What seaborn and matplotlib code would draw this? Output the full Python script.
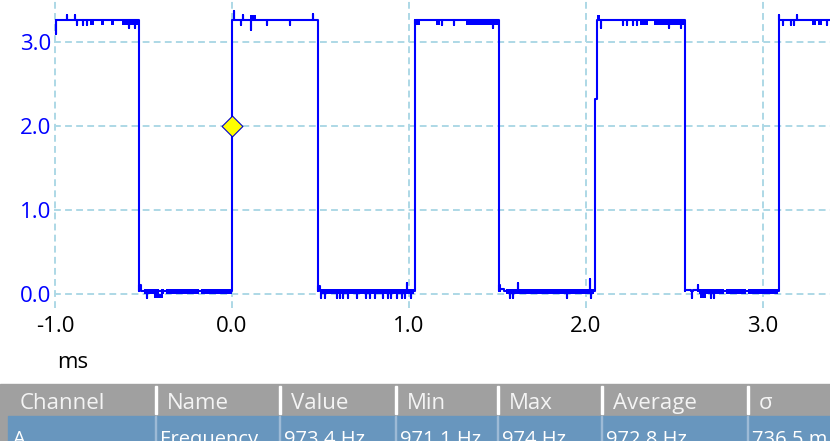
import numpy as np
import pandas as pd
import matplotlib
matplotlib.use("Agg")
import matplotlib.pyplot as plt
import seaborn as sns
from matplotlib.patches import Rectangle

# -------------------------------
# data (time in ms, level in V)
# -------------------------------
# segment boundaries and the level held in each segment
seg_t = [-0.994, -0.525, 0.0, 0.488, 1.034, 1.508, 2.051, 2.062, 2.559, 3.090, 3.38]
seg_v = [3.26, 0.03, 3.26, 0.03, 3.26, 0.03, 2.32, 3.26, 0.03, 3.26]

# excursions from the level: start, end, value (start == end -> single spike)
exc_t0 = [-0.994, -0.932, -0.887, -0.876, -0.842, -0.819, -0.582, -0.548,
          -0.525, -0.480,
          0.010, 0.051, 0.062, 0.107, 0.198, 0.330, 0.458,
          0.488, 0.503, 0.525, 0.593, 0.610, 0.630, 0.655, 0.706, 0.757, 0.780,
          0.808, 0.853, 0.881, 0.900, 0.930, 0.960, 0.977, 0.989, 1.011,
          1.034, 1.186, 1.254, 1.475,
          1.508, 1.514, 1.571, 1.588, 1.616, 1.893, 2.022, 2.028,
          2.085, 2.209, 2.232, 2.266, 2.288, 2.469, 2.537,
          2.559, 2.599, 2.603, 2.633, 2.706, 2.723,
          3.090, 3.113, 3.158, 3.175, 3.192, 3.362]
exc_t1 = [-0.994, -0.932, -0.887, -0.876, -0.842, -0.819, -0.582, -0.548,
          -0.514, -0.480,
          0.010, 0.051, 0.062, 0.107, 0.198, 0.330, 0.458,
          0.497, 0.503, 0.525, 0.593, 0.610, 0.630, 0.655, 0.706, 0.757, 0.780,
          0.808, 0.853, 0.881, 0.900, 0.930, 0.960, 0.977, 0.989, 1.011,
          1.040, 1.186, 1.254, 1.475,
          1.514, 1.537, 1.571, 1.588, 1.616, 1.893, 2.022, 2.028,
          2.085, 2.209, 2.232, 2.266, 2.288, 2.469, 2.537,
          2.595, 2.599, 2.633, 2.633, 2.706, 2.723,
          3.090, 3.113, 3.158, 3.175, 3.192, 3.362]
exc_v = [3.10, 3.32, 3.32, 3.20, 3.20, 3.20, 3.17, 3.17,
         0.107, -0.05,
         3.37, 3.20, 3.32, 3.14, 3.20, 3.20, 3.33,
         0.10, -0.05, -0.05, -0.05, -0.05, -0.05, -0.05, -0.05, -0.05, -0.05,
         -0.05, -0.05, -0.05, -0.05, -0.05, -0.05, -0.05, 0.13, -0.05,
         3.22, 3.20, 3.20, 3.17,
         0.107, 0.06, -0.05, -0.05, 0.13, -0.05, 0.18, -0.05,
         3.17, 3.20, 3.20, 3.20, 3.20, 3.17, 3.17,
         0.05, -0.05, 0.05, 0.107, -0.05, -0.05,
         3.32, 3.20, 3.20, 3.20, 3.32, 3.20]

# dense noise bands: start, end, bottom, top
blk_t0 = [-0.802, -0.740, -0.684, -0.621,
          -0.495, -0.400, -0.375, -0.176, -0.441,
          0.102, 0.500,
          1.040, 1.153, 1.322,
          1.550, 2.062, 2.305, 2.384,
          2.640, 2.790, 2.915, 2.644,
          3.277, 3.311]
blk_t1 = [-0.780, -0.723, -0.667, -0.525,
          -0.412, -0.386, -0.186, 0.0, -0.390,
          0.136, 1.030,
          1.062, 1.175, 1.508,
          2.047, 2.079, 2.350, 2.559,
          2.780, 2.905, 3.085, 2.678,
          3.299, 3.333]
blk_lo = [3.20, 3.20, 3.20, 3.20,
          0.0, 0.0, 0.0, 0.0, -0.05,
          3.26, 0.0,
          3.20, 3.20, 3.20,
          0.0, 3.26, 3.20, 3.20,
          0.0, 0.0, 0.0, -0.05,
          3.20, 3.20]
blk_hi = [3.26, 3.26, 3.26, 3.26,
          0.065, 0.065, 0.065, 0.065, 0.0,
          3.32, 0.065,
          3.26, 3.26, 3.26,
          0.065, 3.32, 3.26, 3.26,
          0.065, 0.065, 0.065, 0.0,
          3.26, 3.26]

# trigger marker
cursor_t = [0.0]
cursor_v = [2.0]

x_ticks = [-1.0, 0.0, 1.0, 2.0, 3.0]
x_labels = ["-1.0", "0.0", "1.0", "2.0", "3.0"]
y_ticks = [0.0, 1.0, 2.0, 3.0]
y_labels = ["0.0", "1.0", "2.0", "3.0"]

# measurement table
col_names = ["Channel", "Name", "Value", "Min", "Max", "Average", "σ"]
row_values = ["A", "Frequency", "973.4 Hz", "971.1 Hz", "974 Hz", "972.8 Hz", "736.5 m..."]


def build_trace():
    ts, vs = [], []
    for i, lev in enumerate(seg_v):
        t0, t1 = seg_t[i], seg_t[i + 1]
        ts.append(t0)
        vs.append(lev)
        ev = sorted((a, b, v) for a, b, v in zip(exc_t0, exc_t1, exc_v) if t0 <= a < t1)
        for a, b, v in ev:
            ts += [a, a, b, b]
            vs += [lev, v, v, lev]
        ts.append(t1)
        vs.append(lev)
    return pd.DataFrame({"t": ts, "v": vs})


sns.set_theme(style="white")
plt.rcParams["font.family"] = ["Open Sans", "DejaVu Sans"]

W, H = 830, 441
fig = plt.figure(figsize=(W / 100, H / 100), dpi=100)

# axes placed in pixel terms: left 54, bottom 308
ax = fig.add_axes([54 / W, 1 - 308 / H, (W - 54) / W, 308 / H])

trace = build_trace()
sns.lineplot(data=trace, x="t", y="v", sort=False, estimator=None,
             color="#0000ff", linewidth=1.5, ax=ax, zorder=3)
for a, b, lo, hi in zip(blk_t0, blk_t1, blk_lo, blk_hi):
    ax.fill_between([a, b], [lo, lo], [hi, hi], color="#0000ff", linewidth=0, zorder=3)

sns.scatterplot(x=cursor_t, y=cursor_v, marker="D", s=112, color="#ffff00",
                edgecolor="#0000cc", linewidth=0.8, ax=ax, zorder=5)

ax.set_xlim(-1.005, 3.378)
ax.set_ylim(-0.167, 3.5)
ax.set_xticks(x_ticks)
ax.set_xticklabels(x_labels)
ax.set_yticks(y_ticks)
ax.set_yticklabels(y_labels)
ax.set_xlabel("")
ax.set_ylabel("")
ax.tick_params(axis="y", length=0, pad=2.2, labelsize=16, labelcolor="#0000ff")
ax.tick_params(axis="x", length=0, pad=6.0, labelsize=16, labelcolor="#000000")
ax.grid(True, color="#add8e6", linewidth=1.4, linestyle=(0, (3.5, 2.2)))
ax.set_axisbelow(True)
for sp in ax.spines.values():
    sp.set_visible(False)

fig.text(73 / W, 1 - 363 / H, "ms", ha="center", va="center", fontsize=16, color="#000000")

# -------------------------------
# measurement table under the plot
# -------------------------------
def px_rect(x0, y0, x1, y1, color):
    fig.patches.append(Rectangle((x0 / W, 1 - y1 / H), (x1 - x0) / W, (y1 - y0) / H,
                                 transform=fig.transFigure, color=color, zorder=0))

col_left = [8, 155, 279, 395, 497, 601, 747]
px_rect(0, 384, W, H, "#a0a0a0")
px_rect(8, 416, W, H, "#6896be")
for x in col_left[1:]:
    px_rect(x, 386, x + 2, 414, "#ffffff")
    px_rect(x, 416, x + 1, H, "#9dbad6")

for x, name in zip(col_left, col_names):
    fig.text((x + 12) / W, 1 - 409 / H, name, ha="left", va="baseline",
             fontsize=16, color="#f4f4f4")
# the row is cut by the window edge in the capture, as here
for x, val in zip(col_left, row_values):
    fig.text((x + 5) / W, 1 - 445 / H, val, ha="left", va="baseline",
             fontsize=14.5, color="#ffffff")

fig.savefig("out.png", dpi=100)
